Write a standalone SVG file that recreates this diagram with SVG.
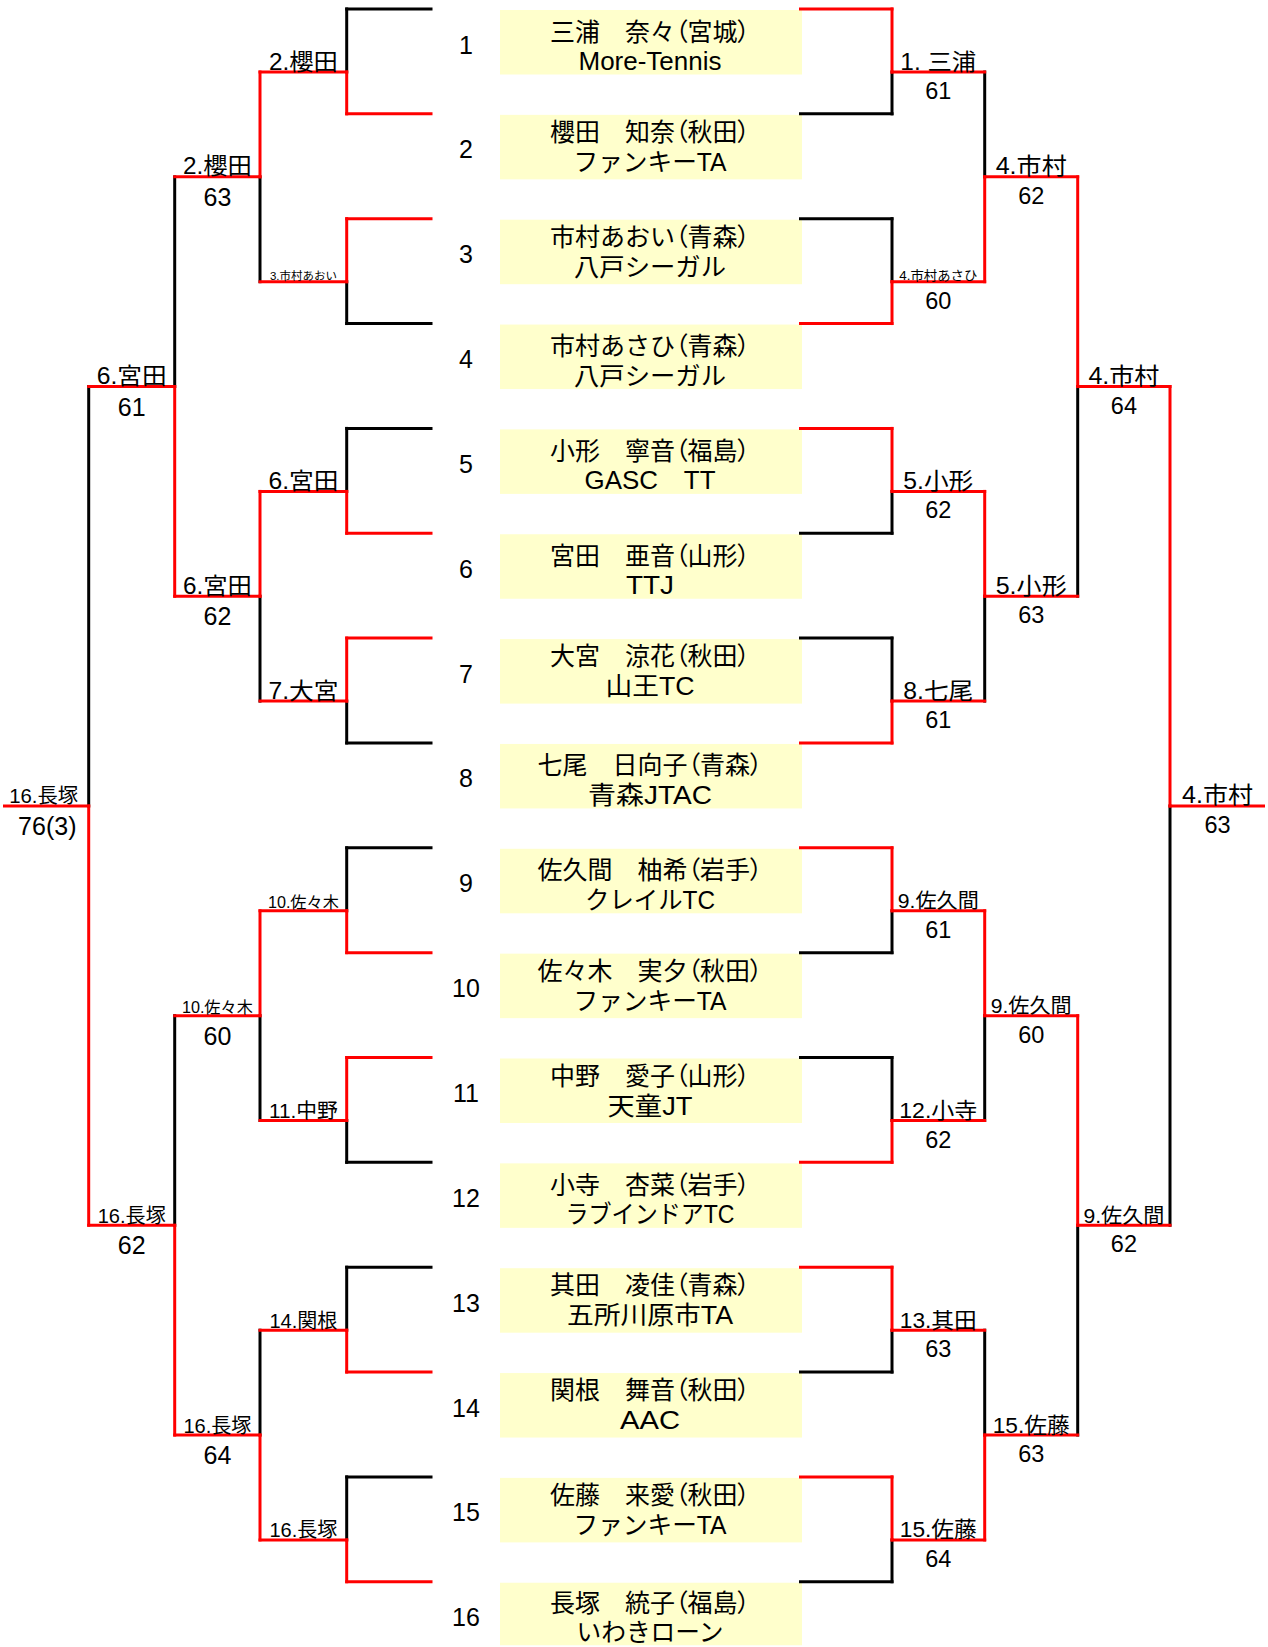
<svg xmlns="http://www.w3.org/2000/svg" width="1268" height="1647" viewBox="0 0 1268 1647">
<style>
.k{stroke:#000;stroke-width:3;stroke-linecap:square;fill:none}
.r{stroke:#FF0000;stroke-width:3;stroke-linecap:square;fill:none}
.box{fill:#FFFFCC}
text{font-family:"Liberation Sans","Noto Sans CJK JP",sans-serif;fill:#000;text-anchor:middle}
.p{font-feature-settings:"palt" 1}
.seed{font-size:25px}
.l1{font-size:25px}
.l2{font-size:25px}
.n23{font-size:23px}
.n22{font-size:22px}
.n20{font-size:20.5px}
.n16{font-size:16px}
.n13{font-size:13px}
.n11{font-size:11px}
.sl{font-size:25px}
.sr{font-size:23.5px}
</style>
<rect width="1268" height="1647" fill="#FFFFFF"/>

<g id="players">
<g id="p1"><rect class="box" x="500" y="10" width="302" height="64.5"/><text class="seed" x="466" y="53.5">1</text><text class="l1" x="650" y="40.5">三浦　奈々<tspan class="p">（</tspan>宮城<tspan class="p">）</tspan></text><text class="l2" x="650" y="70" textLength="143" lengthAdjust="spacingAndGlyphs">More-Tennis</text></g>
<g id="p2"><rect class="box" x="500" y="114.85" width="302" height="64.5"/><text class="seed" x="466" y="158.35">2</text><text class="l1" x="650" y="140.85">櫻田　知奈<tspan class="p">（</tspan>秋田<tspan class="p">）</tspan></text><text class="l2" x="650" y="170.85" textLength="153" lengthAdjust="spacingAndGlyphs">ファンキーTA</text></g>
<g id="p3"><rect class="box" x="500" y="219.7" width="302" height="64.5"/><text class="seed" x="466" y="263.2">3</text><text class="l1" x="650" y="245.7">市村あおい<tspan class="p">（</tspan>青森<tspan class="p">）</tspan></text><text class="l2" x="650" y="275.7" textLength="152" lengthAdjust="spacingAndGlyphs">八戸シーガル</text></g>
<g id="p4"><rect class="box" x="500" y="324.55" width="302" height="64.5"/><text class="seed" x="466" y="368.05">4</text><text class="l1" x="650" y="355.05">市村あさひ<tspan class="p">（</tspan>青森<tspan class="p">）</tspan></text><text class="l2" x="650" y="384.55" textLength="152" lengthAdjust="spacingAndGlyphs">八戸シーガル</text></g>
<g id="p5"><rect class="box" x="500" y="429.4" width="302" height="64.5"/><text class="seed" x="466" y="472.9">5</text><text class="l1" x="650" y="459.9">小形　寧音<tspan class="p">（</tspan>福島<tspan class="p">）</tspan></text><text class="l2" x="650" y="489.4" textLength="131" lengthAdjust="spacingAndGlyphs">GASC　TT</text></g>
<g id="p6"><rect class="box" x="500" y="534.25" width="302" height="64.5"/><text class="seed" x="466" y="577.75">6</text><text class="l1" x="650" y="564.75">宮田　亜音<tspan class="p">（</tspan>山形<tspan class="p">）</tspan></text><text class="l2" x="650" y="594.25" textLength="48" lengthAdjust="spacingAndGlyphs">TTJ</text></g>
<g id="p7"><rect class="box" x="500" y="639.1" width="302" height="64.5"/><text class="seed" x="466" y="682.6">7</text><text class="l1" x="650" y="665.1">大宮　涼花<tspan class="p">（</tspan>秋田<tspan class="p">）</tspan></text><text class="l2" x="650" y="695.1" textLength="89" lengthAdjust="spacingAndGlyphs">山王TC</text></g>
<g id="p8"><rect class="box" x="500" y="743.95" width="302" height="64.5"/><text class="seed" x="466" y="787.45">8</text><text class="l1" x="650" y="774.45">七尾　日向子<tspan class="p">（</tspan>青森<tspan class="p">）</tspan></text><text class="l2" x="650" y="803.95" textLength="124" lengthAdjust="spacingAndGlyphs">青森JTAC</text></g>
<g id="p9"><rect class="box" x="500" y="848.8" width="302" height="64.5"/><text class="seed" x="466" y="892.3">9</text><text class="l1" x="650" y="879.3">佐久間　柚希<tspan class="p">（</tspan>岩手<tspan class="p">）</tspan></text><text class="l2" x="650" y="908.8" textLength="130" lengthAdjust="spacingAndGlyphs">クレイルTC</text></g>
<g id="p10"><rect class="box" x="500" y="953.65" width="302" height="64.5"/><text class="seed" x="466" y="997.15">10</text><text class="l1" x="650" y="979.65">佐々木　実夕<tspan class="p">（</tspan>秋田<tspan class="p">）</tspan></text><text class="l2" x="650" y="1009.65" textLength="153" lengthAdjust="spacingAndGlyphs">ファンキーTA</text></g>
<g id="p11"><rect class="box" x="500" y="1058.5" width="302" height="64.5"/><text class="seed" x="466" y="1102">11</text><text class="l1" x="650" y="1084.5">中野　愛子<tspan class="p">（</tspan>山形<tspan class="p">）</tspan></text><text class="l2" x="650" y="1114.5" textLength="85" lengthAdjust="spacingAndGlyphs">天童JT</text></g>
<g id="p12"><rect class="box" x="500" y="1163.35" width="302" height="64.5"/><text class="seed" x="466" y="1206.85">12</text><text class="l1" x="650" y="1193.85">小寺　杏菜<tspan class="p">（</tspan>岩手<tspan class="p">）</tspan></text><text class="l2" x="650" y="1223.35" textLength="169" lengthAdjust="spacingAndGlyphs">ラブインドアTC</text></g>
<g id="p13"><rect class="box" x="500" y="1268.2" width="302" height="64.5"/><text class="seed" x="466" y="1311.7">13</text><text class="l1" x="650" y="1294.2">其田　凌佳<tspan class="p">（</tspan>青森<tspan class="p">）</tspan></text><text class="l2" x="650" y="1324.2" textLength="166" lengthAdjust="spacingAndGlyphs">五所川原市TA</text></g>
<g id="p14"><rect class="box" x="500" y="1373.05" width="302" height="64.5"/><text class="seed" x="466" y="1416.55">14</text><text class="l1" x="650" y="1399.05">関根　舞音<tspan class="p">（</tspan>秋田<tspan class="p">）</tspan></text><text class="l2" x="650" y="1429.05" textLength="60" lengthAdjust="spacingAndGlyphs">AAC</text></g>
<g id="p15"><rect class="box" x="500" y="1477.9" width="302" height="64.5"/><text class="seed" x="466" y="1521.4">15</text><text class="l1" x="650" y="1503.9">佐藤　来愛<tspan class="p">（</tspan>秋田<tspan class="p">）</tspan></text><text class="l2" x="650" y="1533.9" textLength="153" lengthAdjust="spacingAndGlyphs">ファンキーTA</text></g>
<g id="p16"><rect class="box" x="500" y="1582.75" width="302" height="62.5"/><text class="seed" x="466" y="1626.25">16</text><text class="l1" x="650" y="1611.75">長塚　統子<tspan class="p">（</tspan>福島<tspan class="p">）</tspan></text><text class="l2" x="650" y="1640.75" textLength="147" lengthAdjust="spacingAndGlyphs">いわきローン</text></g>
</g>

<g id="connectors">
<g class="k">
<line x1="346.7" y1="9" x2="431" y2="9"/>
<line x1="346.7" y1="323.55" x2="431" y2="323.55"/>
<line x1="346.7" y1="428.4" x2="431" y2="428.4"/>
<line x1="346.7" y1="742.95" x2="431" y2="742.95"/>
<line x1="346.7" y1="847.8" x2="431" y2="847.8"/>
<line x1="346.7" y1="1162.35" x2="431" y2="1162.35"/>
<line x1="346.7" y1="1267.2" x2="431" y2="1267.2"/>
<line x1="346.7" y1="1476.9" x2="431" y2="1476.9"/>
<line x1="346.7" y1="9" x2="346.7" y2="72"/>
<line x1="346.7" y1="281.7" x2="346.7" y2="323.55"/>
<line x1="346.7" y1="428.4" x2="346.7" y2="491.4"/>
<line x1="346.7" y1="701.1" x2="346.7" y2="742.95"/>
<line x1="346.7" y1="847.8" x2="346.7" y2="910.8"/>
<line x1="346.7" y1="1120.5" x2="346.7" y2="1162.35"/>
<line x1="346.7" y1="1267.2" x2="346.7" y2="1330.2"/>
<line x1="346.7" y1="1476.9" x2="346.7" y2="1539.9"/>
<line x1="260" y1="176.85" x2="260" y2="281.7"/>
<line x1="260" y1="596.25" x2="260" y2="701.1"/>
<line x1="260" y1="1015.65" x2="260" y2="1120.5"/>
<line x1="260" y1="1330.2" x2="260" y2="1435.05"/>
<line x1="174.7" y1="176.85" x2="174.7" y2="386.55"/>
<line x1="174.7" y1="1015.65" x2="174.7" y2="1225.35"/>
<line x1="88.7" y1="386.55" x2="88.7" y2="805.95"/>
<line x1="800.5" y1="113.85" x2="892" y2="113.85"/>
<line x1="800.5" y1="218.7" x2="892" y2="218.7"/>
<line x1="800.5" y1="533.25" x2="892" y2="533.25"/>
<line x1="800.5" y1="638.1" x2="892" y2="638.1"/>
<line x1="800.5" y1="952.65" x2="892" y2="952.65"/>
<line x1="800.5" y1="1057.5" x2="892" y2="1057.5"/>
<line x1="800.5" y1="1372.05" x2="892" y2="1372.05"/>
<line x1="800.5" y1="1581.75" x2="892" y2="1581.75"/>
<line x1="892" y1="72" x2="892" y2="113.85"/>
<line x1="892" y1="218.7" x2="892" y2="281.7"/>
<line x1="892" y1="491.4" x2="892" y2="533.25"/>
<line x1="892" y1="638.1" x2="892" y2="701.1"/>
<line x1="892" y1="910.8" x2="892" y2="952.65"/>
<line x1="892" y1="1057.5" x2="892" y2="1120.5"/>
<line x1="892" y1="1330.2" x2="892" y2="1372.05"/>
<line x1="892" y1="1539.9" x2="892" y2="1581.75"/>
<line x1="984.7" y1="72" x2="984.7" y2="176.85"/>
<line x1="984.7" y1="596.25" x2="984.7" y2="701.1"/>
<line x1="984.7" y1="1015.65" x2="984.7" y2="1120.5"/>
<line x1="984.7" y1="1330.2" x2="984.7" y2="1435.05"/>
<line x1="1077.7" y1="386.55" x2="1077.7" y2="596.25"/>
<line x1="1077.7" y1="1225.35" x2="1077.7" y2="1435.05"/>
<line x1="1170" y1="805.95" x2="1170" y2="1225.35"/>
</g>
<g class="r">
<line x1="346.7" y1="113.85" x2="431" y2="113.85"/>
<line x1="346.7" y1="218.7" x2="431" y2="218.7"/>
<line x1="346.7" y1="533.25" x2="431" y2="533.25"/>
<line x1="346.7" y1="638.1" x2="431" y2="638.1"/>
<line x1="346.7" y1="952.65" x2="431" y2="952.65"/>
<line x1="346.7" y1="1057.5" x2="431" y2="1057.5"/>
<line x1="346.7" y1="1372.05" x2="431" y2="1372.05"/>
<line x1="346.7" y1="1581.75" x2="431" y2="1581.75"/>
<line x1="346.7" y1="72" x2="346.7" y2="113.85"/>
<line x1="346.7" y1="218.7" x2="346.7" y2="281.7"/>
<line x1="346.7" y1="491.4" x2="346.7" y2="533.25"/>
<line x1="346.7" y1="638.1" x2="346.7" y2="701.1"/>
<line x1="346.7" y1="910.8" x2="346.7" y2="952.65"/>
<line x1="346.7" y1="1057.5" x2="346.7" y2="1120.5"/>
<line x1="346.7" y1="1330.2" x2="346.7" y2="1372.05"/>
<line x1="346.7" y1="1539.9" x2="346.7" y2="1581.75"/>
<line x1="260" y1="72" x2="346.7" y2="72"/>
<line x1="260" y1="281.7" x2="346.7" y2="281.7"/>
<line x1="260" y1="491.4" x2="346.7" y2="491.4"/>
<line x1="260" y1="701.1" x2="346.7" y2="701.1"/>
<line x1="260" y1="910.8" x2="346.7" y2="910.8"/>
<line x1="260" y1="1120.5" x2="346.7" y2="1120.5"/>
<line x1="260" y1="1330.2" x2="346.7" y2="1330.2"/>
<line x1="260" y1="1539.9" x2="346.7" y2="1539.9"/>
<line x1="260" y1="72" x2="260" y2="176.85"/>
<line x1="260" y1="491.4" x2="260" y2="596.25"/>
<line x1="260" y1="910.8" x2="260" y2="1015.65"/>
<line x1="260" y1="1435.05" x2="260" y2="1539.9"/>
<line x1="174.7" y1="176.85" x2="260" y2="176.85"/>
<line x1="174.7" y1="596.25" x2="260" y2="596.25"/>
<line x1="174.7" y1="1015.65" x2="260" y2="1015.65"/>
<line x1="174.7" y1="1435.05" x2="260" y2="1435.05"/>
<line x1="174.7" y1="386.55" x2="174.7" y2="596.25"/>
<line x1="174.7" y1="1225.35" x2="174.7" y2="1435.05"/>
<line x1="88.7" y1="386.55" x2="174.7" y2="386.55"/>
<line x1="88.7" y1="1225.35" x2="174.7" y2="1225.35"/>
<line x1="88.7" y1="805.95" x2="88.7" y2="1225.35"/>
<line x1="4.5" y1="805.95" x2="88.7" y2="805.95"/>
<line x1="800.5" y1="9" x2="892" y2="9"/>
<line x1="800.5" y1="323.55" x2="892" y2="323.55"/>
<line x1="800.5" y1="428.4" x2="892" y2="428.4"/>
<line x1="800.5" y1="742.95" x2="892" y2="742.95"/>
<line x1="800.5" y1="847.8" x2="892" y2="847.8"/>
<line x1="800.5" y1="1162.35" x2="892" y2="1162.35"/>
<line x1="800.5" y1="1267.2" x2="892" y2="1267.2"/>
<line x1="800.5" y1="1476.9" x2="892" y2="1476.9"/>
<line x1="892" y1="9" x2="892" y2="72"/>
<line x1="892" y1="281.7" x2="892" y2="323.55"/>
<line x1="892" y1="428.4" x2="892" y2="491.4"/>
<line x1="892" y1="701.1" x2="892" y2="742.95"/>
<line x1="892" y1="847.8" x2="892" y2="910.8"/>
<line x1="892" y1="1120.5" x2="892" y2="1162.35"/>
<line x1="892" y1="1267.2" x2="892" y2="1330.2"/>
<line x1="892" y1="1476.9" x2="892" y2="1539.9"/>
<line x1="892" y1="72" x2="984.7" y2="72"/>
<line x1="892" y1="281.7" x2="984.7" y2="281.7"/>
<line x1="892" y1="491.4" x2="984.7" y2="491.4"/>
<line x1="892" y1="701.1" x2="984.7" y2="701.1"/>
<line x1="892" y1="910.8" x2="984.7" y2="910.8"/>
<line x1="892" y1="1120.5" x2="984.7" y2="1120.5"/>
<line x1="892" y1="1330.2" x2="984.7" y2="1330.2"/>
<line x1="892" y1="1539.9" x2="984.7" y2="1539.9"/>
<line x1="984.7" y1="176.85" x2="984.7" y2="281.7"/>
<line x1="984.7" y1="491.4" x2="984.7" y2="596.25"/>
<line x1="984.7" y1="910.8" x2="984.7" y2="1015.65"/>
<line x1="984.7" y1="1435.05" x2="984.7" y2="1539.9"/>
<line x1="984.7" y1="176.85" x2="1077.7" y2="176.85"/>
<line x1="984.7" y1="596.25" x2="1077.7" y2="596.25"/>
<line x1="984.7" y1="1015.65" x2="1077.7" y2="1015.65"/>
<line x1="984.7" y1="1435.05" x2="1077.7" y2="1435.05"/>
<line x1="1077.7" y1="176.85" x2="1077.7" y2="386.55"/>
<line x1="1077.7" y1="1015.65" x2="1077.7" y2="1225.35"/>
<line x1="1077.7" y1="386.55" x2="1170" y2="386.55"/>
<line x1="1077.7" y1="1225.35" x2="1170" y2="1225.35"/>
<line x1="1170" y1="386.55" x2="1170" y2="805.95"/>
<line x1="1170" y1="805.95" x2="1263.5" y2="805.95"/>
</g>
</g>

<g id="results-left">
<g id="L1-1"><text class="n23" x="303.4" y="69.5" textLength="69" lengthAdjust="spacingAndGlyphs">2.櫻田</text></g>
<g id="L1-2"><text class="n11" x="303.4" y="280" textLength="67" lengthAdjust="spacingAndGlyphs">3.市村あおい</text></g>
<g id="L1-3"><text class="n23" x="303.4" y="488.9" textLength="70" lengthAdjust="spacingAndGlyphs">6.宮田</text></g>
<g id="L1-4"><text class="n23" x="303.4" y="698.6" textLength="70" lengthAdjust="spacingAndGlyphs">7.大宮</text></g>
<g id="L1-5"><text class="n16" x="303.4" y="908.3" textLength="71" lengthAdjust="spacingAndGlyphs">10.佐々木</text></g>
<g id="L1-6"><text class="n20" x="303.4" y="1118" textLength="69" lengthAdjust="spacingAndGlyphs">11.中野</text></g>
<g id="L1-7"><text class="n20" x="303.4" y="1327.7" textLength="68" lengthAdjust="spacingAndGlyphs">14.関根</text></g>
<g id="L1-8"><text class="n20" x="303.4" y="1537.4" textLength="68" lengthAdjust="spacingAndGlyphs">16.長塚</text></g>
<g id="L2-1"><text class="n23" x="217.4" y="174.35" textLength="69" lengthAdjust="spacingAndGlyphs">2.櫻田</text><text class="sl" x="217.4" y="205.85">63</text></g>
<g id="L2-2"><text class="n23" x="217.4" y="593.75" textLength="69" lengthAdjust="spacingAndGlyphs">6.宮田</text><text class="sl" x="217.4" y="625.25">62</text></g>
<g id="L2-3"><text class="n16" x="217.4" y="1013.15" textLength="71" lengthAdjust="spacingAndGlyphs">10.佐々木</text><text class="sl" x="217.4" y="1044.65">60</text></g>
<g id="L2-4"><text class="n20" x="217.4" y="1432.55" textLength="68" lengthAdjust="spacingAndGlyphs">16.長塚</text><text class="sl" x="217.4" y="1464.05">64</text></g>
<g id="L3-1"><text class="n23" x="131.7" y="384.05" textLength="70" lengthAdjust="spacingAndGlyphs">6.宮田</text><text class="sl" x="131.7" y="415.55">61</text></g>
<g id="L3-2"><text class="n20" x="131.7" y="1222.85" textLength="68" lengthAdjust="spacingAndGlyphs">16.長塚</text><text class="sl" x="131.7" y="1254.35">62</text></g>
<g id="L4-1"><text class="n20" x="43.7" y="803.45" textLength="69" lengthAdjust="spacingAndGlyphs">16.長塚</text><text class="sl" x="47.3" y="834.95">76(3)</text></g>
</g>

<g id="results-right">
<g id="R1-1"><text class="n23" x="938.3" y="69.5" textLength="76" lengthAdjust="spacingAndGlyphs">1. 三浦</text><text class="sr" x="938.3" y="99">61</text></g>
<g id="R1-2"><text class="n13" x="938.3" y="280.2" textLength="78" lengthAdjust="spacingAndGlyphs">4.市村あさひ</text><text class="sr" x="938.3" y="308.7">60</text></g>
<g id="R1-3"><text class="n23" x="938.3" y="488.9" textLength="70" lengthAdjust="spacingAndGlyphs">5.小形</text><text class="sr" x="938.3" y="518.4">62</text></g>
<g id="R1-4"><text class="n23" x="938.3" y="698.6" textLength="70" lengthAdjust="spacingAndGlyphs">8.七尾</text><text class="sr" x="938.3" y="728.1">61</text></g>
<g id="R1-5"><text class="n20" x="938.3" y="908.3" textLength="81" lengthAdjust="spacingAndGlyphs">9.佐久間</text><text class="sr" x="938.3" y="937.8">61</text></g>
<g id="R1-6"><text class="n22" x="938.3" y="1118" textLength="78" lengthAdjust="spacingAndGlyphs">12.小寺</text><text class="sr" x="938.3" y="1147.5">62</text></g>
<g id="R1-7"><text class="n22" x="938.3" y="1327.7" textLength="77" lengthAdjust="spacingAndGlyphs">13.其田</text><text class="sr" x="938.3" y="1357.2">63</text></g>
<g id="R1-8"><text class="n22" x="938.3" y="1537.4" textLength="77" lengthAdjust="spacingAndGlyphs">15.佐藤</text><text class="sr" x="938.3" y="1566.9">64</text></g>
<g id="R2-1"><text class="n23" x="1031.2" y="174.35" textLength="71" lengthAdjust="spacingAndGlyphs">4.市村</text><text class="sr" x="1031.2" y="203.85">62</text></g>
<g id="R2-2"><text class="n23" x="1031.2" y="593.75" textLength="71" lengthAdjust="spacingAndGlyphs">5.小形</text><text class="sr" x="1031.2" y="623.25">63</text></g>
<g id="R2-3"><text class="n20" x="1031.2" y="1013.15" textLength="81" lengthAdjust="spacingAndGlyphs">9.佐久間</text><text class="sr" x="1031.2" y="1042.65">60</text></g>
<g id="R2-4"><text class="n22" x="1031.2" y="1432.55" textLength="77" lengthAdjust="spacingAndGlyphs">15.佐藤</text><text class="sr" x="1031.2" y="1462.05">63</text></g>
<g id="R3-1"><text class="n23" x="1123.9" y="384.05" textLength="71" lengthAdjust="spacingAndGlyphs">4.市村</text><text class="sr" x="1123.9" y="413.55">64</text></g>
<g id="R3-2"><text class="n20" x="1123.9" y="1222.85" textLength="81" lengthAdjust="spacingAndGlyphs">9.佐久間</text><text class="sr" x="1123.9" y="1252.35">62</text></g>
<g id="R4-1"><text class="n23" x="1217.5" y="803.45" textLength="71" lengthAdjust="spacingAndGlyphs">4.市村</text><text class="sr" x="1217.5" y="832.95">63</text></g>
</g>
</svg>
